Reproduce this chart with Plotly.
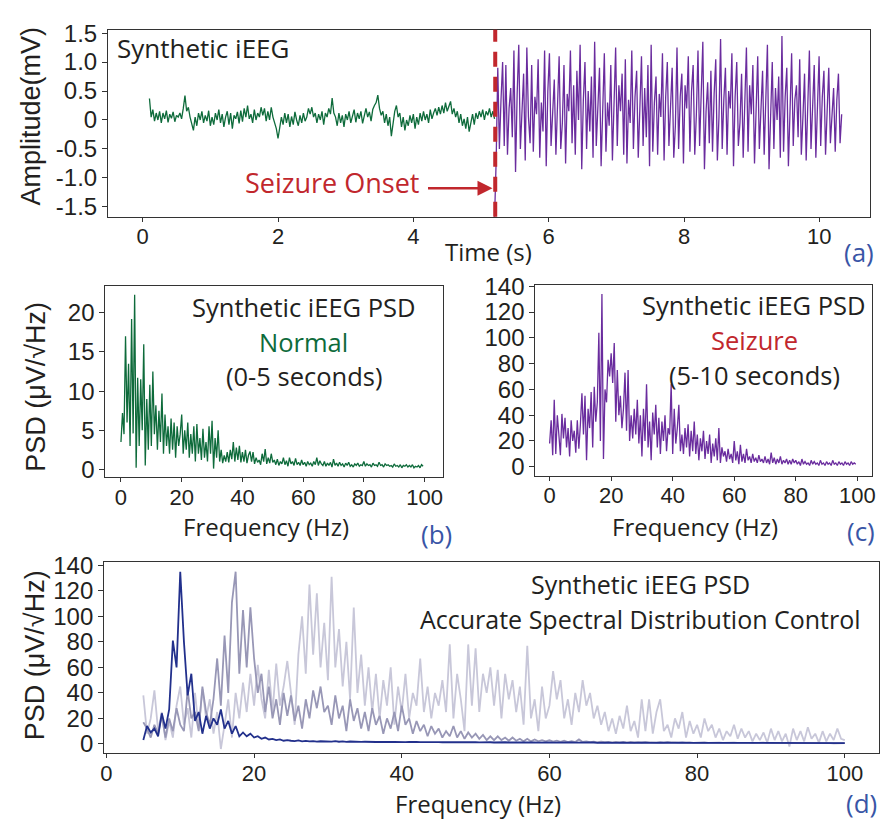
import numpy as np
import plotly.graph_objects as go

# ---------------- DATA ----------------
# Panel (a): synthetic iEEG time series (mV)
normal_t_start, normal_t_end = 0.1, 5.2
normal_amp = [
    0.37, 0.05, 0.18, -0.02, 0.12, 0.0, 0.15, -0.05, 0.12, 0.02, 0.16, -0.04, 0.10, 0.03, 0.14, -0.03, 0.08, 0.05, 0.12, 0.02,
    0.20, 0.42, 0.15, 0.22, 0.05, -0.05, -0.18, 0.05, -0.10, 0.12, 0.0, 0.15, -0.05, 0.08, -0.02, 0.16, -0.10, 0.05, -0.08, 0.12,
    0.0, 0.18, -0.05, 0.10, -0.12, 0.05, 0.15, -0.08, 0.12, -0.15, 0.08, 0.02, 0.14, -0.06, 0.16, -0.03, 0.20, 0.05, 0.25, 0.02,
    0.10, -0.05, 0.18, 0.0, 0.12, 0.05, 0.22, 0.08, 0.20, -0.02, 0.15, 0.0, 0.22, 0.05, -0.05, -0.15, -0.32, -0.10, 0.05, -0.08,
    0.12, -0.05, 0.10, -0.12, 0.06, -0.08, 0.14, 0.0, -0.10, 0.08, -0.05, 0.12, -0.02, 0.05, 0.20, 0.10, 0.22, 0.05, 0.12, -0.05,
    0.10, 0.0, 0.15, -0.08, 0.12, 0.05, 0.20, 0.10, 0.38, 0.12, 0.05, -0.10, 0.12, -0.05, 0.08, -0.12, 0.10, 0.0, 0.15, -0.05,
    0.08, 0.18, -0.04, 0.12, 0.02, 0.15, -0.06, 0.10, 0.20, 0.05, 0.14, -0.02, 0.18, 0.25, 0.30, 0.43, 0.20, 0.08, 0.15, -0.05,
    0.10, -0.10, 0.05, -0.28, -0.05, 0.15, 0.25, 0.05, 0.12, -0.12, 0.05, -0.18, 0.0, -0.10, 0.08, -0.05, 0.10, -0.15, 0.05, -0.08,
    0.12, -0.02, 0.15, 0.0, 0.10, -0.05, 0.18, 0.02, 0.12, 0.20, 0.08, 0.22, 0.10, 0.25, 0.12, 0.30, 0.15, 0.22, 0.32, 0.10,
    0.20, 0.05, 0.15, -0.05, 0.10, -0.10, 0.02, -0.15, 0.05, -0.20, -0.05, 0.10, -0.08, 0.12, 0.02, 0.15, 0.05, 0.18, 0.0, 0.15,
    0.08, 0.20, 0.05, 0.15, 0.02,
]
seizure_t_start, seizure_t_end = 5.2, 10.33
seizure_amp = [
    -1.70, -0.70, 0.90, -0.50, 0.35, 1.00, -0.45, 0.95, -0.60, 0.20, 0.55, -0.30, 1.20, -0.90, 0.45,
    1.30, -0.50, 0.10, 0.80, -0.70, 1.25, 0.05, -0.40, 0.95, -0.55, 0.40, 0.10, 1.05, -0.65, 0.30,
    -0.20, 1.20, -0.80, 0.50, 1.15, -0.45, 0.25, 0.70, -0.60, 0.40, 1.10, -0.50, -0.05, 0.95, -0.75,
    0.45, 0.15, 1.20, -0.40, 0.60, -0.60, 0.85, 0.00, 1.30, -0.85, 0.35, 1.00, -0.50, 0.50, -0.20,
    0.75, -0.65, 1.35, -0.45, 0.40, 0.90, -0.80, 0.20, 1.15, -0.55, 0.30, -0.10, 0.95, -0.70, 0.45,
    1.25, -0.45, 0.60, 0.15, 0.80, -0.60, 1.05, -0.75, 0.35, -0.05, 1.20, -0.50, 0.40, 0.85, -0.65,
    0.20, 1.10, -0.45, 0.55, -0.30, 0.95, -0.80, 1.30, -0.55, 0.30, 0.75, -0.60, 0.45, 0.05, 1.15,
    -0.70, 0.40, 1.00, -0.45, 0.25, 0.90, -0.65, -0.10, 1.25, -0.50, 0.40, 0.80, -0.75, 0.60, 0.20,
    1.10, -0.55, 0.50, 0.95, -0.60, 0.10, 1.20, -0.45, 0.30, 1.35, -0.85, 0.15, 0.65, -0.40, 0.85,
    -0.55, 0.45, 1.05, -0.70, 0.05, 1.40, -0.50, 0.35, 0.90, -0.60, 0.50, 0.20, 1.15, -0.80, 0.40,
    1.00, -0.45, -0.05, 0.80, -0.65, 0.30, 1.25, -0.55, 0.60, 0.10, 0.95, -0.75, 0.35, 1.10, -0.50,
    0.20, 0.85, -0.60, 0.45, 1.30, -0.85, 0.30, 1.00, -0.50, 0.55, 0.00, 0.75, -0.65, 1.45, -0.55,
    0.40, 0.90, -0.80, 0.15, 1.15, -0.45, 0.35, 0.60, -0.30, 1.05, -0.60, 0.05, 0.80, -0.70, 0.45,
    1.20, -0.50, 0.20, 0.95, -0.65, 0.30, 1.10, -0.45, 0.40, 0.85, -0.60, 0.15, 0.90, -0.40, 0.05,
    0.55, -0.55, 0.35, 0.80, -0.40, 0.10,
]
onset_time = 5.21

# Panels (b), (c): PSD, 0 - 99.5 Hz in 0.5 Hz steps (uV/sqrt(Hz))
psd_freq_start, psd_freq_step = 0.0, 0.5
psd_normal = [
    3.5, 7.2, 4.5, 17.0, 6.0, 13.5, 3.0, 19.2, 4.6, 22.3, 0.2, 11.7, 3.0, 11.5, 5.0, 16.0, 0.5, 9.0, 2.5, 10.8,
    3.0, 12.5, 4.5, 8.2, 2.5, 7.5, 3.5, 9.7, 2.0, 7.0, 3.0, 5.5, 2.0, 6.5, 2.5, 6.0, 1.5, 5.5, 3.0, 4.5,
    7.0, 2.0, 5.0, 2.5, 6.0, 1.5, 4.5, 2.0, 5.5, 1.0, 5.8, 2.0, 4.0, 1.2, 5.2, 1.5, 3.5, 1.0, 5.5, 2.0,
    6.2, 0.1, 4.0, 1.5, 5.0, 1.0, 2.5, 0.8, 1.8, 1.0, 2.2, 0.9, 2.5, 1.3, 3.5, 1.0, 2.8, 1.2, 3.0, 0.9,
    2.2, 1.0, 2.5, 0.8, 1.8, 2.3, 1.0, 2.2, 0.7, 1.5, 0.9, 1.2, 0.6, 2.0, 1.0, 2.6, 0.7, 1.5, 0.8, 2.0,
    0.9, 1.2, 0.6, 1.3, 0.5, 1.0, 0.7, 1.5, 0.6, 1.1, 0.4, 1.5, 0.7, 1.0, 0.5, 1.4, 0.6, 0.9, 0.5, 1.2,
    0.6, 0.9, 0.4, 1.0, 0.6, 0.8, 0.4, 1.0, 0.6, 1.5, 0.5, 1.1, 0.7, 0.5, 1.0, 0.4, 0.8, 0.5, 0.9, 0.3,
    1.3, 0.5, 0.8, 0.4, 0.9, 0.5, 0.7, 0.3, 0.8, 0.5, 0.9, 0.4, 0.6, 0.3, 0.7, 0.5, 0.8, 0.4, 0.6, 0.5,
    1.0, 0.4, 0.7, 0.5, 0.6, 0.3, 0.8, 0.5, 0.6, 0.4, 0.9, 0.5, 0.6, 0.3, 0.7, 0.5, 0.6, 0.4, 0.5, 0.3,
    0.7, 0.4, 0.5, 0.3, 0.6, 0.2, 0.5, 0.4, 0.6, 0.3, 0.5, 0.3, 0.6, 0.2, 0.4, 0.3, 0.5, 0.2, 0.6, 0.4,
]
psd_seizure = [
    18, 36, 9, 52, 10, 40, 25, 9, 41, 22, 38, 15, 30, 8, 36, 20, 28, 11, 36, 14,
    33, 57, 25, 55, 5, 45, 30, 58, 15, 62, 35, 50, 104, 20, 134, 6, 60, 50, 83, 70,
    88, 65, 96, 35, 75, 40, 55, 30, 45, 73, 28, 75, 20, 40, 22, 45, 25, 52, 18, 40,
    8, 45, 20, 64, 15, 35, 5, 42, 25, 48, 15, 38, 10, 35, 20, 40, 12, 30, 25, 64,
    10, 45, 18, 30, 48, 12, 25, 10, 30, 15, 33, 8, 28, 12, 35, 10, 25, 5, 22, 12,
    28, 6, 20, 10, 25, 3, 18, 8, 22, 5, 30, 3, 15, 8, 12, 4, 14, 6, 10, 3,
    20, 5, 12, 2, 17, 4, 10, 3, 14, 5, 8, 3, 10, 4, 7, 3, 9, 4, 6, 3,
    8, 3, 6, 2, 11, 3, 7, 2, 6, 3, 8, 2, 5, 3, 6, 2, 5, 2, 6, 3,
    5, 2, 4, 1, 6, 2, 4, 2, 3, 1, 5, 2, 4, 2, 3, 1, 5, 2, 3, 1,
    4, 2, 3, 1, 5, 2, 3, 1, 4, 2, 3, 1, 4, 2, 3, 1, 4, 2, 3, 2,
]

# Panel (d): PSD, 5 - 100 Hz in 0.5 Hz steps, three spectral distributions
ctrl_freq_start, ctrl_freq_step = 5.0, 0.5
psd_alpha = [
    3, 14, 9, 12, 6, 24, 12, 27, 81, 60,
    135, 80, 38, 55, 18, 25, 8, 22, 12, 20,
    15, 27, 12, 18, 8, 14, 6, 9, 6, 8,
    5, 6, 4, 5, 3.5, 4, 3, 3.5, 2.5, 3,
    2.5, 2.2, 2.8, 2.0, 2.4, 2.0, 2.2, 1.8, 2.1, 1.9,
    2.0, 1.8, 2.2, 1.7, 2.0, 1.6, 1.9, 1.7, 1.8, 1.6,
    1.7, 1.5, 1.8, 1.5, 1.6, 1.4, 1.7, 1.5, 1.6, 1.4,
    1.5, 1.4, 1.6, 1.3, 1.5, 1.4, 1.5, 1.3, 1.4, 1.3,
    1.4, 1.3, 1.5, 1.2, 1.4, 1.3, 1.4, 1.2, 1.3, 1.2,
    1.3, 1.2, 1.4, 1.2, 1.3, 1.1, 1.3, 1.2, 1.3, 1.1,
    1.2, 1.1, 1.3, 1.1, 1.2, 1.1, 1.2, 1.0, 1.2, 1.1,
    1.2, 1.0, 1.1, 1.0, 1.2, 1.0, 1.1, 1.0, 1.1, 1.0,
    1.1, 1.0, 1.1, 0.9, 1.1, 1.0, 1.0, 0.9, 1.1, 1.0,
    1.0, 0.9, 1.0, 0.9, 1.1, 0.9, 1.0, 0.9, 1.0, 0.9,
    1.0, 0.9, 1.0, 0.8, 1.0, 0.9, 1.0, 0.9, 0.9, 0.8,
    1.0, 0.8, 0.9, 0.8, 1.0, 0.8, 0.9, 0.8, 0.9, 0.8,
    0.9, 0.8, 0.9, 0.7, 0.9, 0.8, 0.9, 0.8, 0.8, 0.7,
    0.9, 0.7, 0.8, 0.7, 0.9, 0.7, 0.8, 0.7, 0.8, 0.7,
    0.8, 0.7, 0.8, 0.6, 0.8, 0.7, 0.8, 0.7, 0.7, 0.6,
    0.7,
]
psd_beta = [
    17, 12, 5, 15, 8, 22, 5, 20, 10, 28,
    15, 10, 42, 20, 25, 10, 45, 25, 15, 35,
    67, 30, 85, 40, 111, 135, 55, 105, 60, 107,
    67, 40, 55, 25, 45, 20, 35, 15, 40, 22,
    38, 18, 30, 12, 35, 20, 42, 28, 45, 25,
    30, 15, 38, 20, 30, 10, 35, 18, 28, 12,
    25, 10, 28, 15, 22, 8, 20, 12, 25, 10,
    30, 15, 20, 8, 18, 10, 15, 6, 14, 8,
    12, 5, 10, 6, 14, 5, 10, 4, 9, 5,
    8, 4, 7, 3, 6, 3, 6, 3, 5, 2.5,
    5, 2.5, 4, 2, 4, 2, 3.5, 2, 3, 2,
    3, 1.8, 2.5, 1.6, 2.5, 1.5, 2.2, 1.5, 3.5, 1.5,
    2, 1.4, 1.8, 1.3, 1.7, 1.3, 1.6, 1.2, 1.6, 1.2,
    1.5, 1.2, 1.5, 1.1, 1.4, 1.1, 1.4, 1.1, 1.3, 1.0,
    1.3, 1.0, 1.3, 1.0, 1.2, 1.0, 1.2, 0.9, 1.2, 0.9,
    1.1, 0.9, 1.1, 0.9, 1.1, 0.8, 1.0, 0.8, 1.0, 0.8,
    1.0, 0.8, 1.0, 0.7, 0.9, 0.7, 0.9, 0.7, 0.9, 0.7,
    0.9, 0.7, 0.8, 0.6, 0.8, 0.6, 0.8, 0.6, 0.8, 0.6,
    0.7, 0.6, 0.7, 0.5, 0.7, 0.5, 0.7, 0.5, 0.6, 0.5,
    0.6,
]
psd_gamma = [
    38, 8, 20, 42, 10, 25, 3, 18, 5, 30,
    45, 15, 28, 5, 40, 12, 43, 20, 35, 8,
    25, -4, 15, 35, 5, 40, 20, 48, 25, 55,
    30, 62, 35, 20, 58, 25, 63, 30, 45, 65,
    40, 15, 70, 100, 55, 125, 70, 118, 60, 95,
    50, 131, 60, 90, 45, 80, 35, 107, 40, 70,
    30, 60, 25, 55, 20, 50, 30, 60, 15, 45,
    25, 55, 20, 40, 30, 67, 25, 45, 20, 40,
    30, 50, 25, 78, 20, 55, 35, 10, 78, 30,
    75, 25, 55, 40, 60, 30, 58, 20, 55, 35,
    50, 25, 45, 15, 77, 20, 35, 10, 45, 20,
    30, 57, 35, 50, 20, 35, 15, 40, 25, 50,
    30, 40, 20, 30, 15, 25, 10, 20, 8, 22,
    12, 30, 10, 18, 5, 35, 10, 35, 8, 25,
    35, 10, 15, 5, 20, 12, 25, 5, 18, 8,
    15, 5, 20, 10, 15, 5, 12, 3, 10, 6,
    15, 4, 12, 5, 10, 2, 8, 3, 9, 1,
    12, 3, 10, 2, 8, -2, 12, 3, 10, 2,
    13, 4, 8, 1, 10, 2, 8, 3, 12, 4,
    3,
]

# ---------------- STYLE ----------------
W, H = 886, 825
GREEN = "#0e6b3b"
PURPLE = "#6a2c9e"
RED = "#c1272d"
LABEL_BLUE = "#3955a6"
TXT = "#231f20"
C_ALPHA = "#22308c"
C_BETA = "#9897b6"
C_GAMMA = "#c8c7d9"
TEXT_FONT = "Open Sans"
TICK_FONT = "Liberation Sans, Arial"


def px(x):
    return x / W


def py(y):
    return 1 - y / H


t_normal = np.linspace(normal_t_start, normal_t_end, len(normal_amp))
t_seizure = np.linspace(seizure_t_start, seizure_t_end, len(seizure_amp))
f_psd = psd_freq_start + psd_freq_step * np.arange(len(psd_normal))
f_psd2 = psd_freq_start + psd_freq_step * np.arange(len(psd_seizure))
f_ctrl_a = ctrl_freq_start + ctrl_freq_step * np.arange(len(psd_alpha))
f_ctrl_b = ctrl_freq_start + ctrl_freq_step * np.arange(len(psd_beta))
f_ctrl_g = ctrl_freq_start + ctrl_freq_step * np.arange(len(psd_gamma))

fig = go.Figure()
fig.add_trace(go.Scatter(x=t_normal, y=normal_amp, mode="lines",
                         line=dict(color=GREEN, width=1.3), xaxis="x", yaxis="y"))
fig.add_trace(go.Scatter(x=t_seizure, y=seizure_amp, mode="lines",
                         line=dict(color=PURPLE, width=1.3), xaxis="x", yaxis="y"))
fig.add_trace(go.Scatter(x=f_psd, y=psd_normal, mode="lines",
                         line=dict(color=GREEN, width=1.3), xaxis="x2", yaxis="y2"))
fig.add_trace(go.Scatter(x=f_psd2, y=psd_seizure, mode="lines",
                         line=dict(color=PURPLE, width=1.3), xaxis="x3", yaxis="y3"))
fig.add_trace(go.Scatter(x=f_ctrl_g, y=psd_gamma, mode="lines",
                         line=dict(color=C_GAMMA, width=1.8), xaxis="x4", yaxis="y4"))
fig.add_trace(go.Scatter(x=f_ctrl_b, y=psd_beta, mode="lines",
                         line=dict(color=C_BETA, width=1.8), xaxis="x4", yaxis="y4"))
fig.add_trace(go.Scatter(x=f_ctrl_a, y=psd_alpha, mode="lines",
                         line=dict(color=C_ALPHA, width=1.8), xaxis="x4", yaxis="y4"))

axis_common = dict(showline=True, linecolor="#333333", linewidth=1.3, mirror=True,
                   ticks="outside", ticklen=5, tickwidth=1, tickcolor="#333333",
                   showgrid=False, zeroline=False,
                   tickfont=dict(family=TICK_FONT, size=24, color=TXT))
xaxis_common = dict(axis_common, ticklen=4, ticklabelstandoff=-4,
                    tickfont=dict(family=TICK_FONT, size=22, color=TXT))

fig.update_layout(
    width=W, height=H, margin=dict(l=0, r=0, t=0, b=0),
    paper_bgcolor="white", plot_bgcolor="white", showlegend=False,
    xaxis=dict(xaxis_common, domain=[px(105), px(873)], range=[-0.51, 10.75],
               tickvals=[0, 2, 4, 6, 8, 10], anchor="y"),
    yaxis=dict(axis_common, domain=[py(209), py(18)], range=[-1.67, 1.56], anchor="x",
               tickvals=[-1.5, -1.0, -0.5, 0, 0.5, 1.0, 1.5],
               ticktext=["-1.5", "-1.0", "-0.5", "0", "0.5", "1.0", "1.5"]),
    xaxis2=dict(xaxis_common, domain=[px(102.3), px(442.3)], range=[-5.1, 106],
                tickvals=[0, 20, 40, 60, 80, 100], anchor="y2"),
    yaxis2=dict(axis_common, domain=[py(475), py(280)], range=[-1.0, 23.4],
                tickvals=[0, 5, 10, 15, 20], anchor="x2"),
    xaxis3=dict(xaxis_common, domain=[px(535.7), px(875)], range=[-4.6, 104.8],
                tickvals=[0, 20, 40, 60, 80, 100], anchor="y3"),
    yaxis3=dict(axis_common, domain=[py(473.3), py(278.3)], range=[-6.8, 141.3],
                tickvals=[0, 20, 40, 60, 80, 100, 120, 140], anchor="x3"),
    xaxis4=dict(xaxis_common, domain=[px(101), px(881.7)], range=[-0.3, 104.6],
                tickvals=[0, 20, 40, 60, 80, 100], anchor="y4"),
    yaxis4=dict(axis_common, domain=[py(756.7), py(561.7)], range=[-7.2, 142.5],
                tickvals=[0, 20, 40, 60, 80, 100, 120, 140], anchor="x4"),
)

# seizure onset dashed line
fig.add_shape(type="line", xref="x", yref="y domain", x0=onset_time, x1=onset_time,
              y0=0, y1=1, line=dict(color=RED, width=4, dash="15px,10px"))

ann = []


def text(x, y, s, size=26, color=TXT, family=TEXT_FONT, xanchor="center", angle=0):
    ann.append(dict(xref="paper", yref="paper", x=px(x), y=py(y), text=s, showarrow=False,
                    xanchor=xanchor, yanchor="middle", textangle=angle,
                    font=dict(family=family, size=size, color=color)))


# Panel (a)
text(112, 37, "Synthetic iEEG", xanchor="left")
text(420, 174, "Seizure Onset", size=27, color=RED, xanchor="right")
ann.append(dict(xref="x", yref="y", x=onset_time - 0.04, y=-1.18, ax=-66, ay=0,
                text="", showarrow=True, arrowhead=2, arrowsize=1.2, arrowwidth=2.5,
                arrowcolor=RED, standoff=0))
text(27, 106, "Amplitude(mV)", size=27, family=TICK_FONT, angle=-90)
text(488, 245, "Time (s)", size=24)
text(862, 245, "(a)", color=LABEL_BLUE)

# Panel (b)
text(302, 301, "Synthetic iEEG PSD", size=25.5)
text(302, 337, "Normal", size=25.5, color=GREEN)
text(302, 372, "(0-5 seconds)", size=25.5)
text(32, 383, "PSD (μV/√Hz)", size=27, family=TICK_FONT, angle=-90)
text(264, 525, "Frequency (Hz)", size=24)
text(436, 533, "(b)", color=LABEL_BLUE)

# Panel (c)
text(756, 299, "Synthetic iEEG PSD", size=25.5)
text(756, 335, "Seizure", size=25.5, color=RED)
text(756, 371, "(5-10 seconds)", size=25.5)
text(697, 525, "Frequency (Hz)", size=24)
text(864, 530, "(c)", color=LABEL_BLUE)

# Panel (d)
text(642, 584, "Synthetic iEEG PSD", size=25)
text(642, 619.5, "Accurate Spectral Distribution Control", size=25)
text(32, 657, "PSD (μV/√Hz)", size=27, family=TICK_FONT, angle=-90)
text(478, 808, "Frequency (Hz)", size=24)
text(864, 808, "(d)", color=LABEL_BLUE)

fig.update_layout(annotations=ann)
fig.write_html("out.html")
